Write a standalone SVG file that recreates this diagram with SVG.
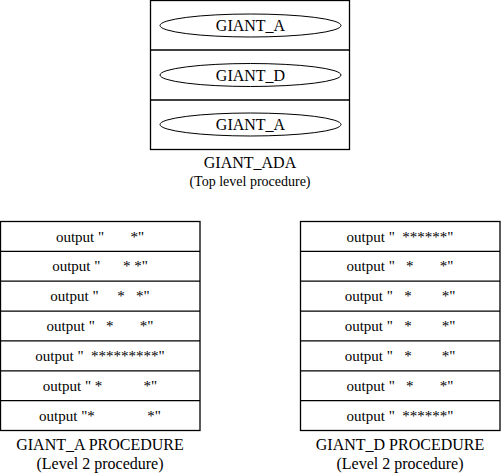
<svg xmlns="http://www.w3.org/2000/svg" width="501" height="473" viewBox="0 0 501 473">
<style>
  .box{fill:#fff;stroke:#000;stroke-width:1.3}
  .ln{stroke:#000;stroke-width:1.3;fill:none}
  .el{fill:#fff;stroke:#000;stroke-width:1}
  .t{font-family:'Liberation Serif',serif}
</style>
<rect x="0" y="0" width="501" height="473" fill="#fff"/>
<g id="giant_ada">
  <rect class="box" x="150.5" y="0.5" width="199" height="149"/>
  <line class="ln" x1="150.5" y1="50" x2="349.5" y2="50"/>
  <line class="ln" x1="150.5" y1="100" x2="349.5" y2="100"/>
  <g id="call1"><ellipse class="el" cx="250.5" cy="25.5" rx="90.5" ry="11.5"/><text class="t" x="250.5" y="31" font-size="16" text-anchor="middle">GIANT_A</text></g>
  <g id="call2"><ellipse class="el" cx="250.5" cy="75" rx="90.5" ry="11.5"/><text class="t" x="250.5" y="80.5" font-size="16" text-anchor="middle">GIANT_D</text></g>
  <g id="call3"><ellipse class="el" cx="250.5" cy="124.5" rx="90.5" ry="11.5"/><text class="t" x="250.5" y="130" font-size="16" text-anchor="middle">GIANT_A</text></g>
  <text class="t" x="250" y="168" font-size="16" text-anchor="middle">GIANT_ADA</text>
  <text class="t" x="250" y="186" font-size="14" text-anchor="middle">(Top level procedure)</text>
</g>
<g id="giant_a_proc">
  <rect class="box" x="0.5" y="221.5" width="199.5" height="209"/>
  <line class="ln" x1="0.5" y1="251.4" x2="200" y2="251.4"/>
  <line class="ln" x1="0.5" y1="281.2" x2="200" y2="281.2"/>
  <line class="ln" x1="0.5" y1="311.1" x2="200" y2="311.1"/>
  <line class="ln" x1="0.5" y1="340.9" x2="200" y2="340.9"/>
  <line class="ln" x1="0.5" y1="370.8" x2="200" y2="370.8"/>
  <line class="ln" x1="0.5" y1="400.6" x2="200" y2="400.6"/>
  <text class="t" x="100" y="241.5" font-size="15" text-anchor="middle" xml:space="preserve">output "       *"</text>
  <text class="t" x="100" y="271.3" font-size="15" text-anchor="middle" xml:space="preserve">output "      * *"</text>
  <text class="t" x="100" y="301.1" font-size="15" text-anchor="middle" xml:space="preserve">output "     *   *"</text>
  <text class="t" x="100" y="331" font-size="15" text-anchor="middle" xml:space="preserve">output "   *       *"</text>
  <text class="t" x="100" y="360.9" font-size="15" text-anchor="middle" xml:space="preserve">output "  *********"</text>
  <text class="t" x="100" y="390.7" font-size="15" text-anchor="middle" xml:space="preserve">output " *           *"</text>
  <text class="t" x="100" y="420.6" font-size="15" text-anchor="middle" xml:space="preserve">output "*              *"</text>
  <text class="t" x="100" y="450" font-size="16" text-anchor="middle">GIANT_A PROCEDURE</text>
  <text class="t" x="100" y="469" font-size="16" text-anchor="middle">(Level 2 procedure)</text>
</g>
<g id="giant_d_proc">
  <rect class="box" x="300.5" y="221.5" width="199.5" height="209"/>
  <line class="ln" x1="300.5" y1="251.4" x2="500" y2="251.4"/>
  <line class="ln" x1="300.5" y1="281.2" x2="500" y2="281.2"/>
  <line class="ln" x1="300.5" y1="311.1" x2="500" y2="311.1"/>
  <line class="ln" x1="300.5" y1="340.9" x2="500" y2="340.9"/>
  <line class="ln" x1="300.5" y1="370.8" x2="500" y2="370.8"/>
  <line class="ln" x1="300.5" y1="400.6" x2="500" y2="400.6"/>
  <text class="t" x="400" y="241.5" font-size="15" text-anchor="middle" xml:space="preserve">output "  ******"</text>
  <text class="t" x="400" y="271.3" font-size="15" text-anchor="middle" xml:space="preserve">output "   *       *"</text>
  <text class="t" x="400" y="301.1" font-size="15" text-anchor="middle" xml:space="preserve">output "   *        *"</text>
  <text class="t" x="400" y="331" font-size="15" text-anchor="middle" xml:space="preserve">output "   *        *"</text>
  <text class="t" x="400" y="360.9" font-size="15" text-anchor="middle" xml:space="preserve">output "   *        *"</text>
  <text class="t" x="400" y="390.7" font-size="15" text-anchor="middle" xml:space="preserve">output "   *       *"</text>
  <text class="t" x="400" y="420.6" font-size="15" text-anchor="middle" xml:space="preserve">output "  ******"</text>
  <text class="t" x="400" y="450" font-size="16" text-anchor="middle">GIANT_D PROCEDURE</text>
  <text class="t" x="400" y="469" font-size="16" text-anchor="middle">(Level 2 procedure)</text>
</g>
<g id="connectors"></g>
</svg>
